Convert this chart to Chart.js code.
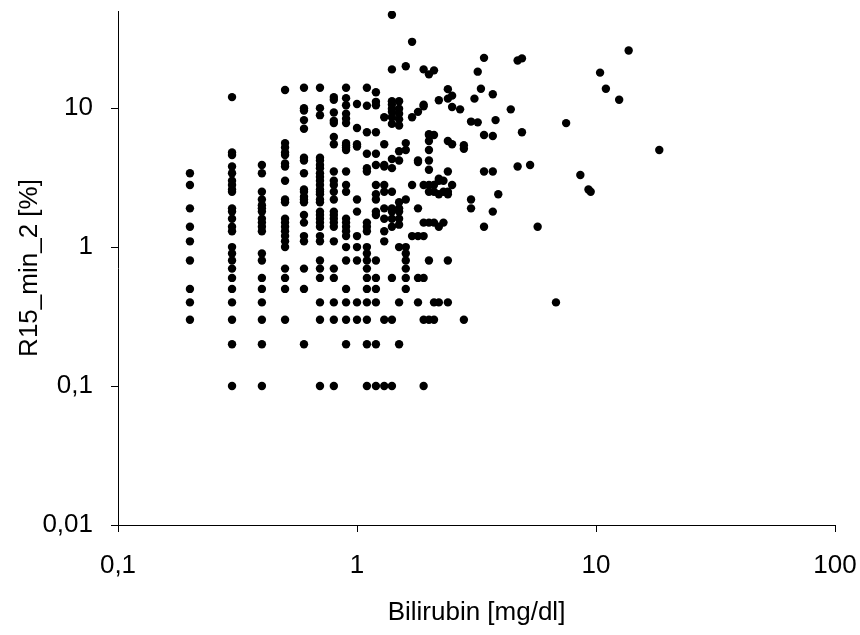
<!DOCTYPE html>
<html>
<head>
<meta charset="utf-8">
<script src="https://cdn.jsdelivr.net/npm/chart.js@4.4.1/dist/chart.umd.min.js"></script>
<style>
  body { margin: 0; background: #fff; }
  canvas { display: block; }
</style>
</head>
<body>
<canvas id="scatterChart" width="860" height="635"></canvas>
<script>
// bilirubin levels (x) and the R15 values read at each level (y)
const bilirubin = [0.2, 0.3, 0.4, 0.5, 0.6, 0.7, 0.8, 0.9, 1.0, 1.1, 1.2, 1.3, 1.4, 1.5, 1.6, 1.7, 1.8, 1.9,
    2.0, 2.1, 2.2, 2.3, 2.4, 2.5, 2.7, 2.8, 3.0, 3.1, 3.2, 3.3, 3.4, 3.7, 3.8, 3.9, 4.4, 4.7, 4.9, 5.3,
    5.7, 6.8, 7.5, 8.6, 9.3, 9.5, 10.4, 11, 12.5, 13.7, 18.4];

const r15 = [
    [3.4, 2.8, 1.9, 1.4, 1.1, 0.8, 0.5, 0.4, 0.3],
    [12, 4.8, 4.6, 3.8, 3.4, 3.0, 2.8, 2.6, 2.5, 1.9, 1.8, 1.6, 1.4, 1.3, 1.0, 0.9, 0.8, 0.7, 0.6, 0.5, 0.4, 0.3, 0.2, 0.1],
    [3.9, 3.4, 2.5, 2.2, 2.0, 1.9, 1.8, 1.6, 1.5, 1.4, 1.3, 0.9, 0.8, 0.6, 0.5, 0.4, 0.3, 0.2, 0.1],
    [13.5, 5.6, 5.2, 4.8, 4.6, 4.0, 3.8, 3.0, 2.2, 2.1, 1.6, 1.5, 1.4, 1.3, 1.2, 1.1, 1.0, 0.7, 0.6, 0.5, 0.3],
    [14, 10, 9.6, 8.2, 7.1, 4.4, 4.2, 3.4, 2.6, 2.5, 2.3, 2.2, 2.1, 1.7, 1.5, 1.2, 1.1, 0.7, 0.5, 0.2],
    [14, 10, 8.9, 4.4, 4.2, 3.9, 3.7, 3.4, 3.2, 3.0, 2.8, 2.6, 2.5, 2.4, 2.2, 2.1, 1.8, 1.7, 1.6, 1.5, 1.4, 1.2, 1.1, 0.8, 0.7, 0.6, 0.4, 0.3, 0.1],
    [12, 11.5, 9.3, 8.1, 7.8, 6.2, 5.5, 3.5, 3.0, 2.8, 2.5, 2.2, 1.8, 1.7, 1.6, 1.5, 1.4, 1.1, 0.7, 0.6, 0.4, 0.3, 0.1],
    [14, 11.8, 10.5, 9.1, 8.4, 7.8, 5.6, 5.4, 5.2, 5.0, 3.5, 2.8, 2.5, 1.6, 1.5, 1.4, 1.3, 1.2, 1.0, 0.8, 0.5, 0.4, 0.3, 0.2],
    [10.7, 7.2, 5.5, 5.3, 2.2, 1.8, 1.2, 1.0, 0.8, 0.4, 0.3],
    [14, 10.4, 6.7, 4.7, 3.7, 3.5, 1.5, 1.4, 1.3, 1.0, 0.9, 0.8, 0.7, 0.6, 0.5, 0.4, 0.3, 0.2, 0.1],
    [13, 11.1, 10.5, 6.7, 4.7, 3.9, 2.8, 2.4, 2.2, 1.8, 1.7, 0.8, 0.6, 0.5, 0.4, 0.2, 0.1],
    [8.6, 5.5, 3.9, 3.8, 2.8, 2.5, 1.9, 1.6, 1.3, 1.1, 0.3, 0.1],
    [47, 19, 11.2, 10.6, 9.9, 9.4, 8.6, 7.7, 4.3, 3.7, 2.5, 1.9, 1.8, 1.6, 1.4, 0.6, 0.3, 0.1],
    [11.2, 9.9, 9.1, 8.3, 7.5, 4.9, 4.2, 2.1, 1.9, 1.8, 1.6, 1.45, 1.0, 0.4, 0.2],
    [20, 5.6, 5.0, 2.2, 1.0, 0.9, 0.8, 0.7, 0.6, 0.5],
    [30, 8.6, 2.8, 1.2],
    [9.4, 4.2, 4.1, 1.9, 1.2, 0.6, 0.4],
    [19, 10.6, 10.3, 2.8, 1.5, 1.2, 0.6, 0.3, 0.1],
    [17.5, 6.5, 6.4, 5.8, 5.0, 4.2, 3.6, 2.8, 2.5, 1.5, 0.8, 0.3],
    [18.7, 6.4, 2.8, 2.5, 1.5, 0.4, 0.3],
    [11.4, 3.1, 3.0, 2.4, 1.4, 0.4],
    [3.0, 2.5, 1.5],
    [13.7, 11.7, 5.8, 3.5, 2.5, 2.4, 0.8, 0.4],
    [12.3, 10.2, 5.5, 2.8],
    [9.8],
    [5.4, 5.1, 0.3],
    [8, 2.2, 1.9],
    [11.7],
    [18.3, 7.9],
    [13.8],
    [23, 6.4, 3.5, 1.4],
    [12.6, 6.3, 3.5, 1.8],
    [8.2],
    [2.4],
    [9.8],
    [22, 3.8],
    [22.8, 6.7],
    [3.9],
    [1.4],
    [0.4],
    [7.8],
    [3.3],
    [2.6],
    [2.5],
    [18],
    [13.8],
    [11.5],
    [26],
    [5.0]
];

const xTicks = [0.1, 1, 10, 100];
const yTicks = [0.01, 0.1, 1, 10];

const points = bilirubin.flatMap((b, i) => r15[i].map(v => ({ x: b, y: v })));

function commaLabel(value) {
    return String(value).replace(".", ",");
}

// keep the plot box where the layout padding puts it
function fixBox(axis, size) {
    if (axis.isHorizontal()) axis.height = size; else axis.width = size;
    axis.paddingTop = 0;
    axis.paddingBottom = 0;
    axis.paddingLeft = 0;
    axis.paddingRight = 0;
}

const axisFont = { family: "'Liberation Sans', Arial, sans-serif", size: 26 };

new Chart(document.getElementById("scatterChart").getContext("2d"), {
    type: "scatter",
    data: {
        datasets: [{
            data: points,
            backgroundColor: "#000",
            borderColor: "#000",
            borderWidth: 0,
            pointRadius: 4.2,
            pointHoverRadius: 4.2
        }]
    },
    options: {
        responsive: false,
        animation: false,
        events: [],
        layout: { padding: { top: 11, right: 25, left: 0, bottom: 0 } },
        plugins: {
            legend: { display: false },
            tooltip: { enabled: false }
        },
        scales: {
            x: {
                type: "logarithmic",
                position: "bottom",
                min: 0.1,
                max: 100,
                afterBuildTicks: axis => { axis.ticks = xTicks.map(v => ({ value: v })); },
                afterFit: axis => fixBox(axis, 110),
                grid: { drawOnChartArea: false, color: "#000", tickColor: "#000", tickLength: 7 },
                border: { color: "#000", width: 1 },
                ticks: {
                    color: "#000",
                    font: axisFont,
                    padding: 18,
                    maxRotation: 0,
                    autoSkip: false,
                    callback: value => commaLabel(value)
                },
                title: {
                    display: true,
                    text: "Bilirubin [mg/dl]",
                    color: "#000",
                    font: axisFont,
                    padding: { top: 0, bottom: 7 }
                }
            },
            y: {
                type: "logarithmic",
                min: 0.01,
                max: 50,
                afterBuildTicks: axis => { axis.ticks = yTicks.map(v => ({ value: v })); },
                afterFit: axis => fixBox(axis, 118),
                grid: { drawOnChartArea: false, color: "#000", tickColor: "#000", tickLength: 7 },
                border: { color: "#000", width: 1 },
                ticks: {
                    color: "#000",
                    font: axisFont,
                    padding: 18,
                    autoSkip: false,
                    callback: value => commaLabel(value)
                },
                title: {
                    display: true,
                    text: "R15_min_2 [%]",
                    color: "#000",
                    font: axisFont,
                    padding: { top: 14, bottom: 0 }
                }
            }
        }
    }
});
</script>
</body>
</html>
